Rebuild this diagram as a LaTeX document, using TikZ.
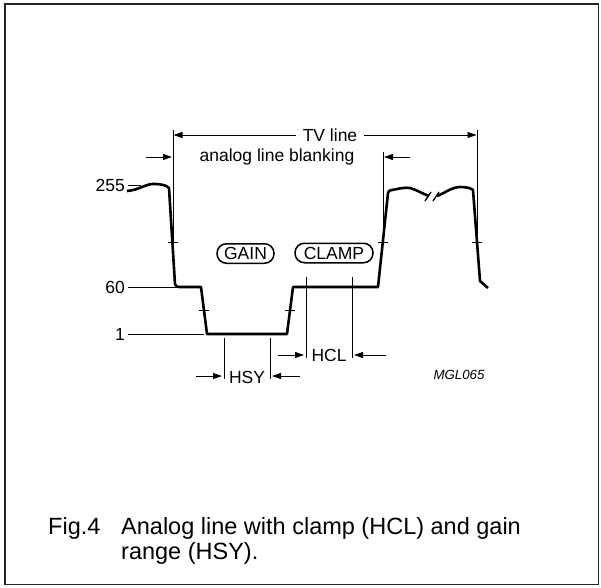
\documentclass[tikz,border=0pt]{standalone}
\usepackage{fontspec}
\setmainfont{Liberation Sans}
\usetikzlibrary{arrows.meta}
\begin{document}
\begin{tikzpicture}[x=1pt,y=-1pt,
  sig/.style={line width=2.6pt, line join=round},
  thinln/.style={line width=0.9pt},
  dimarrow/.style={line width=0.9pt,-{Triangle[length=9pt,width=6pt]}},
  lbl/.style={font=\fontsize{17.5}{21}\selectfont, inner sep=0pt},
  pill/.style={draw, line width=1.5pt, rounded corners=9.5pt, minimum height=19.5pt, inner sep=0pt, font=\fontsize{17.5}{21}\selectfont},
  captext/.style={font=\fontsize{23.5}{28}\selectfont, anchor=base west, inner sep=0pt}]
\useasboundingbox (0,0) rectangle (601,587);
\draw[line width=1.6pt, black!85] (5,4) rectangle (598.5,584.5);

% coordinates
\coordinate (vLt) at (173,130);  \coordinate (vLb) at (173,242);
\coordinate (vMt) at (383,152);  \coordinate (vMb) at (383,242);
\coordinate (vRt) at (477,130);  \coordinate (vRb) at (477,242);
\coordinate (tvL) at (173.5,135); \coordinate (tvR) at (476.5,135);
\coordinate (blLs) at (146,157); \coordinate (blLe) at (172,157);
\coordinate (blRs) at (410,157); \coordinate (blRe) at (384,157);

% vertical reference lines
\draw[thinln] (vLt) -- (vLb);
\draw[thinln] (vMt) -- (vMb);
\draw[thinln] (vRt) -- (vRb);

% TV line
\node[lbl, inner xsep=7pt] (tv) at (330,135) {TV line};
\draw[dimarrow] (tv.west) -- (tvL);
\draw[dimarrow] (tv.east) -- (tvR);
\node[lbl] (blank) at (277,157) {analog line blanking};
\draw[dimarrow] (blLs) -- (blLe);
\draw[dimarrow] (blRs) -- (blRe);

% level labels
\node[lbl, anchor=east] (l255) at (125,185) {255};
\node[lbl, anchor=east] (l60) at (125,287) {60};
\node[lbl, anchor=east] (l1) at (125,334) {1};
\coordinate (t255) at (141,185);
\coordinate (t60) at (177,287);
\coordinate (t1) at (204,334);
\draw[thinln] (l255.east) ++(3,0) -- (t255);
\draw[thinln] (l60.east) ++(3,0) -- (t60);
\draw[thinln] (l1.east) ++(3,0) -- (t1);

% signal
\draw[sig] (127,191) .. controls (140,190) and (146,183) .. (156,184)
  .. controls (162,184.5) and (166,185) .. (169,188)
  -- (175,284) .. controls (176,286.5) .. (179,287)
  -- (201,287) -- (207,334) -- (287,334) -- (293,287) -- (378,287)
  -- (388,193) .. controls (389,190.5) .. (392,190)
  .. controls (398,189) and (404,187) .. (410,188)
  .. controls (417,190) and (423,194) .. (429,196);
\draw[line width=1.3pt] (425,201) -- (431,192);
\draw[line width=1.3pt] (433,201) -- (439,192);
\draw[sig] (437,196) .. controls (445,193) and (452,187) .. (460,187)
  .. controls (466,187) and (471,188) .. (473,190)
  -- (480,281) -- (488,288);

% ticks
\draw[thinln] (168,242) -- (178,242);
\draw[thinln] (378,242) -- (388,242);
\draw[thinln] (472,242) -- (482,242);
\draw[thinln] (199,310) -- (209,310);
\draw[thinln] (285,310) -- (295,310);

% pills
\node[pill, minimum width=57pt] (gain) at (245.5,253.5) {GAIN};
\node[pill, minimum width=78pt] (clamp) at (334,253) {CLAMP};

% HSY
\coordinate (hsy1t) at (224,338); \coordinate (hsy1b) at (224,379);
\coordinate (hsy2t) at (270,338); \coordinate (hsy2b) at (270,379);
\draw[thinln] (hsy1t) -- (hsy1b);
\draw[thinln] (hsy2t) -- (hsy2b);
\node[lbl] (hsy) at (247,377) {HSY};
\coordinate (hsyA) at (196,376); \coordinate (hsyAe) at (222,376);
\coordinate (hsyB) at (300,376); \coordinate (hsyBe) at (272,376);
\draw[dimarrow] (hsyA) -- (hsyAe);
\draw[dimarrow] (hsyB) -- (hsyBe);

% HCL
\coordinate (hcl1t) at (306,277); \coordinate (hcl1b) at (306,358);
\coordinate (hcl2t) at (352,277); \coordinate (hcl2b) at (352,358);
\draw[thinln] (hcl1t) -- (hcl1b);
\draw[thinln] (hcl2t) -- (hcl2b);
\node[lbl] (hcl) at (329,355) {HCL};
\coordinate (hclA) at (278,355); \coordinate (hclAe) at (304,355);
\coordinate (hclB) at (386,355); \coordinate (hclBe) at (354,355);
\draw[dimarrow] (hclA) -- (hclAe);
\draw[dimarrow] (hclB) -- (hclBe);

\node[font=\fontsize{13.3}{16}\selectfont\itshape, inner sep=0pt] (code) at (459,375) {MGL065};

% caption
\node[captext] (fig) at (48,534) {Fig.4};
\node[captext] (c1) at (121,534) {Analog line with clamp (HCL) and gain};
\node[captext] (c2) at (121,559) {range (HSY).};
\end{tikzpicture}
\end{document}
